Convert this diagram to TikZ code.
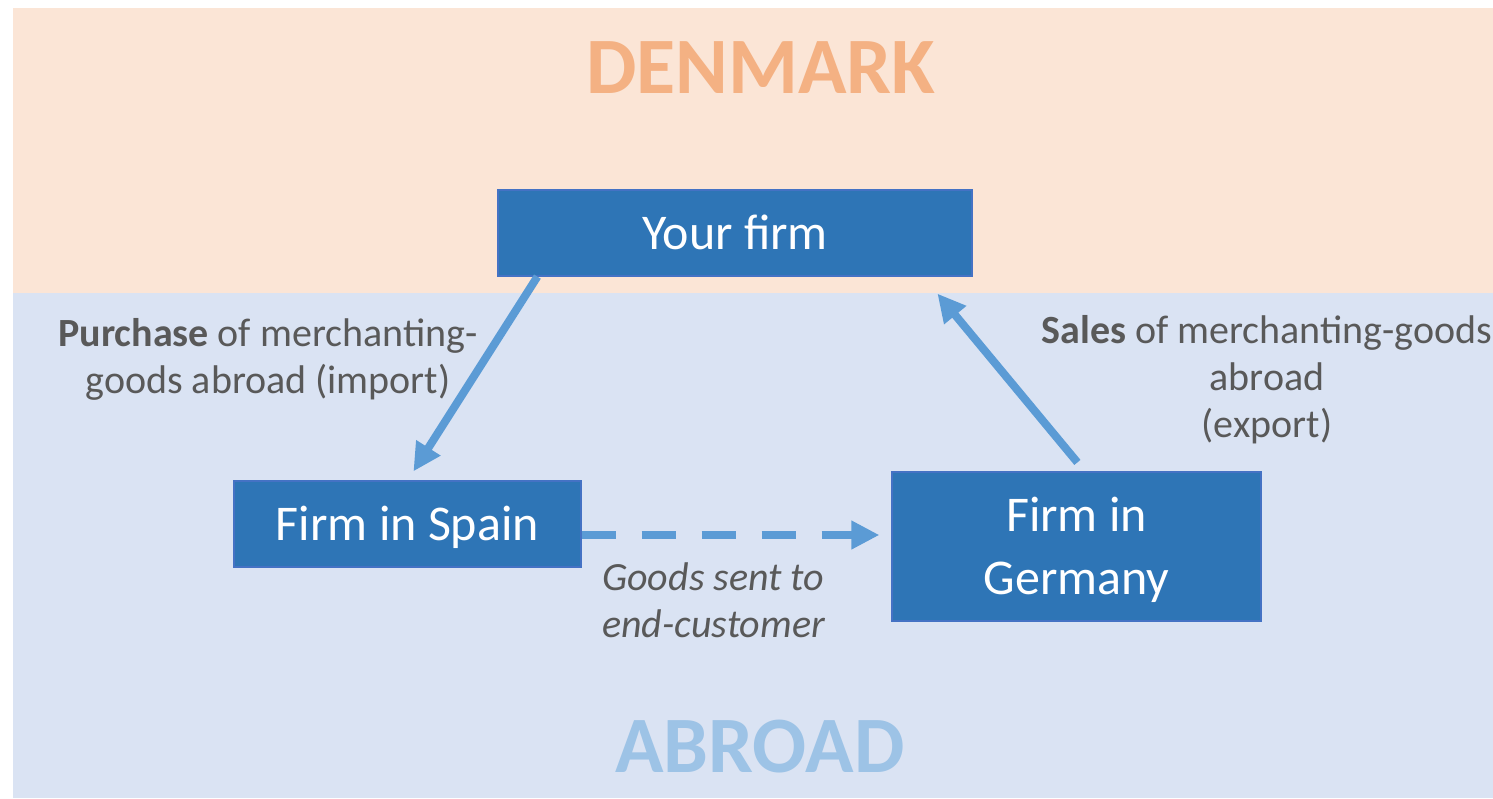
\documentclass[tikz,border=0pt]{standalone}
\usepackage{fontspec}
\setmainfont{Carlito}
\usetikzlibrary{arrows.meta}
\definecolor{bgorange}{HTML}{FBE5D6}
\definecolor{bgblue}{HTML}{DAE3F3}
\definecolor{boxblue}{HTML}{2E75B6}
\definecolor{boxedge}{HTML}{4472C4}
\definecolor{arrowblue}{HTML}{5B9BD5}
\definecolor{dkorange}{HTML}{F4B183}
\definecolor{ltblue}{HTML}{9DC3E6}
\definecolor{txtgray}{HTML}{595959}
\begin{document}
\begin{tikzpicture}[x=1pt,y=-1pt,
  firmbox/.style={draw=boxedge, line width=1.2pt, fill=boxblue, text=white, inner sep=0pt,
    font=\fontsize{50}{63}\selectfont, align=center, text height=32pt, text depth=0pt},
  flow/.style={draw=arrowblue, line width=8pt, -{Triangle[length=28pt,width=27pt]}},
  lbl/.style={text=txtgray, font=\fontsize{40}{47}\selectfont, align=center, inner sep=0pt},
  region/.style={font=\fontsize{80}{96}\selectfont\bfseries, inner sep=0pt, anchor=base}]
\useasboundingbox (0,0) rectangle (1493,798);
\fill[bgorange] (13,8) rectangle (1493,293);
\fill[bgblue] (13,293) rectangle (1493,798);
\node[region, text=dkorange] (dk) at (761,93) {DENMARK};
\node[region, text=ltblue] (ab) at (760,772) {ABROAD};
\node[firmbox, minimum width=474pt, minimum height=86pt] (yf) at (735,233) {Your firm};
\node[firmbox, minimum width=347pt, minimum height=86pt] (sp) at (407.5,524) {Firm in Spain};
\node[firmbox, minimum width=369pt, minimum height=149pt, text height=95pt] (de) at (1076.5,546.5) {Firm in\\Germany};
\draw[flow] ([xshift=40pt]yf.south west) -- ([xshift=180pt,yshift=9pt]sp.north west);
\draw[flow] ([xshift=186pt,yshift=9pt]de.north west) -- ([xshift=440pt,yshift=-17pt]yf.south west);
\draw[flow, dash pattern=on 34pt off 26pt] ([yshift=-11pt]sp.east) -- ([xshift=-12pt,yshift=11.5pt]de.west);
\node[lbl, anchor=base] (pl) at (268,393) {\textbf{Purchase} of merchanting-\\goods abroad (import)};
\node[lbl, anchor=base] (sl) at (1267,437) {\textbf{Sales} of merchanting-goods\\abroad\\(export)};
\node[lbl, align=left, anchor=base west, font=\fontsize{40}{47}\selectfont\itshape] (gl) at (602,637) {Goods sent to\\end-customer};
\end{tikzpicture}
\end{document}
